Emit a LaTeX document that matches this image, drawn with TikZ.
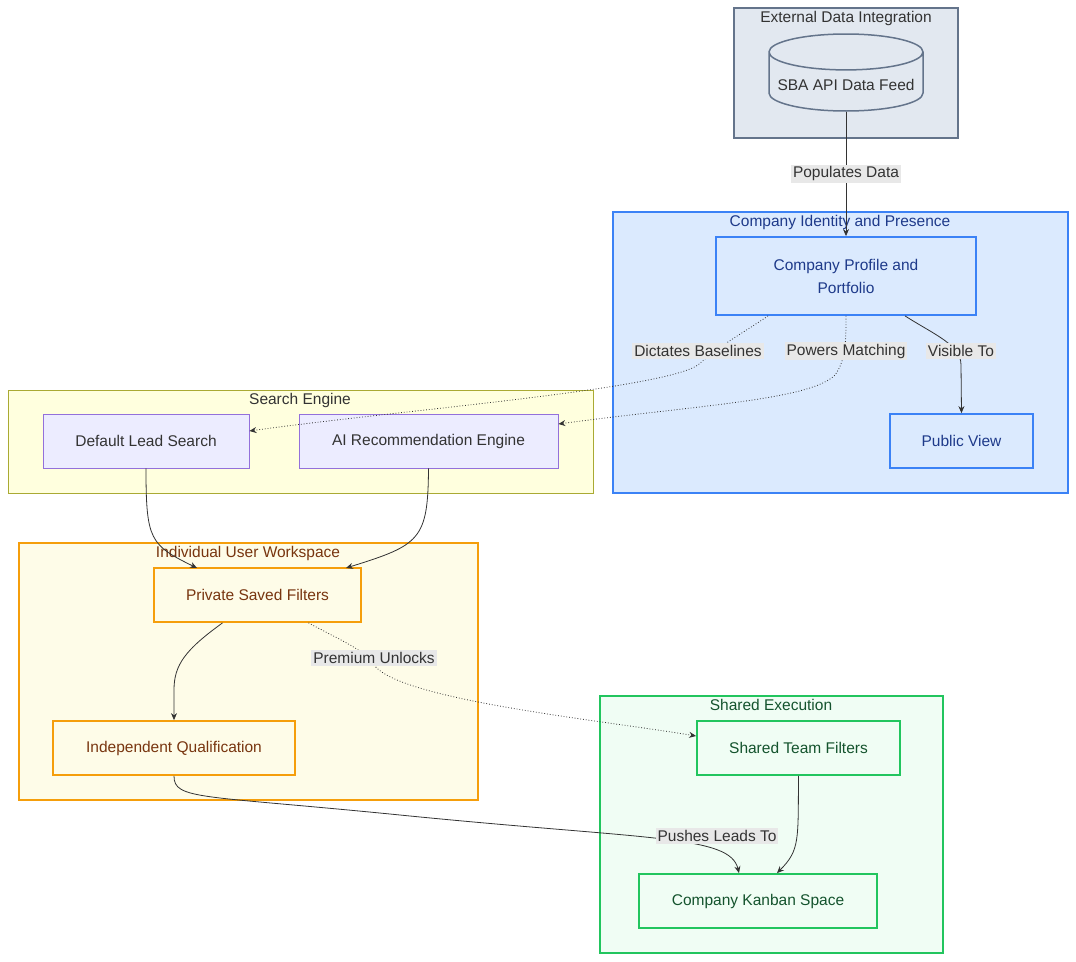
\documentclass[tikz,border=0pt]{standalone}
\usepackage{fontspec}
\setmainfont{Liberation Sans}
\usetikzlibrary{shapes.geometric,arrows.meta}
\definecolor{exfill}{HTML}{E2E8F0}\definecolor{exline}{HTML}{64748B}
\definecolor{cifill}{HTML}{DBEAFE}\definecolor{ciline}{HTML}{3B82F6}\definecolor{citext}{HTML}{1E3A8A}
\definecolor{sefill}{HTML}{FFFFDE}\definecolor{seline}{HTML}{AAAA33}
\definecolor{ndfill}{HTML}{ECECFF}\definecolor{ndline}{HTML}{9370DB}
\definecolor{uwfill}{HTML}{FEFCE8}\definecolor{uwline}{HTML}{F59E0B}\definecolor{uwtext}{HTML}{78350F}
\definecolor{shfill}{HTML}{F0FDF4}\definecolor{shline}{HTML}{22C55E}\definecolor{shtext}{HTML}{14532D}
\definecolor{lbl}{HTML}{E8E8E8}\definecolor{txt}{HTML}{333333}
\begin{document}
\begin{tikzpicture}[x=1pt,y=-1pt,font=\fontsize{15.5}{19}\selectfont,
  box/.style={draw,line width=1.2pt,minimum width=#1,minimum height=54pt,inner sep=0pt,align=center},
  nd/.style={box=#1,fill=ndfill,draw=ndline,line width=0.8pt,text=txt},
  ci/.style={box=#1,fill=cifill,draw=ciline,line width=1.8pt,text=citext},
  uw/.style={box=#1,fill=uwfill,draw=uwline,line width=1.8pt,text=uwtext},
  sh/.style={box=#1,fill=shfill,draw=shline,line width=1.8pt,text=shtext},
  cl/.style={line width=1.5pt},
  ttl/.style={anchor=north,inner sep=2pt},
  lab/.style={fill=lbl,text=txt,inner sep=2pt},
  e/.style={draw=txt,line width=0.8pt,-{Stealth[length=7pt,width=6pt]}},
  d/.style={e,dotted}]
\useasboundingbox (0,0) rectangle (1076,961);
% clusters
\draw[cl,fill=exfill,draw=exline] (734,8) rectangle (958,138);
\node[ttl,text=txt] (t1) at (846,9) {External Data Integration};
\draw[cl,fill=cifill,draw=ciline] (613,212) rectangle (1068,493);
\node[ttl,text=citext] (t2) at (840,213) {Company Identity and Presence};
\draw[cl,fill=sefill,draw=seline,line width=0.8pt] (8,390) rectangle (593,493);
\node[ttl,text=txt] (t3) at (300,391) {Search Engine};
\draw[cl,fill=uwfill,draw=uwline] (19,543) rectangle (478,800);
\node[ttl,text=uwtext] (t4) at (248,544) {Individual User Workspace};
\draw[cl,fill=shfill,draw=shline] (600,696) rectangle (943,953);
\node[ttl,text=shtext] (t5) at (771,697) {Shared Execution};
% nodes
\node[cylinder,shape border rotate=90,aspect=0.25,draw=exline,fill=exfill,line width=1.5pt,minimum width=154pt,minimum height=77pt,text=txt,anchor=shape center] (sba) at (846,72.5) {SBA API Data Feed};
\node[ci=260pt,minimum height=78pt] (prof) at (846,276) {Company Profile and\\[4pt]Portfolio};
\node[ci=143pt] (pub) at (961.5,441) {Public View};
\node[nd=206pt] (dls) at (146,441) {Default Lead Search};
\node[nd=259pt] (ai) at (428.5,441) {AI Recommendation Engine};
\node[uw=207pt] (psf) at (257.5,595) {Private Saved Filters};
\node[uw=242pt] (iq) at (174,748) {Independent Qualification};
\node[sh=203pt] (stf) at (798.5,748) {Shared Team Filters};
\node[sh=238pt] (ks) at (758,901) {Company Kanban Space};
% edges
\draw[e] (sba.bottom) -- (prof.north) node[lab,pos=0.5] {Populates Data};
\draw[d] ([xshift=-78pt]prof.south) .. controls (740,335) and (720,345) .. (698,365) .. controls (660,390) and (400,410) .. ([yshift=10pt]dls.east);
\node[lab] (l2) at (698,351) {Dictates Baselines};
\draw[d] (prof.south) .. controls (846,340) and (846,360) .. (835,375) .. controls (810,400) and (700,405) .. ([yshift=17pt]ai.east);
\node[lab] (l3) at (846,351) {Powers Matching};
\draw[e] ([xshift=59pt]prof.south) .. controls (935,335) and (961,345) .. (961,365) -- (pub.north);
\node[lab] (l4) at (961,351) {Visible To};
\draw[e] (dls.south) .. controls (146,540) and (150,545) .. (197,568);
\draw[e] (ai.south) .. controls (428,540) and (420,545) .. (346,568);
\draw[e] ([xshift=-35pt]psf.south) .. controls (185,650) and (174,665) .. (174,690) -- (iq.north);
\draw[d] ([xshift=51pt]psf.south) .. controls (340,640) and (365,650) .. (374,665) .. controls (400,700) and (600,720) .. ([yshift=12pt]stf.west);
\node[lab] (l5) at (374,658) {Premium Unlocks};
\draw[e] (iq.south) .. controls (174,800) and (200,795) .. (400,815) .. controls (650,840) and (730,835) .. ([xshift=-19pt]ks.north);
\node[lab] (l6) at (717,836) {Pushes Leads To};
\draw[e] (stf.south) .. controls (798,840) and (800,850) .. ([xshift=19pt]ks.north);
\end{tikzpicture}
\end{document}
